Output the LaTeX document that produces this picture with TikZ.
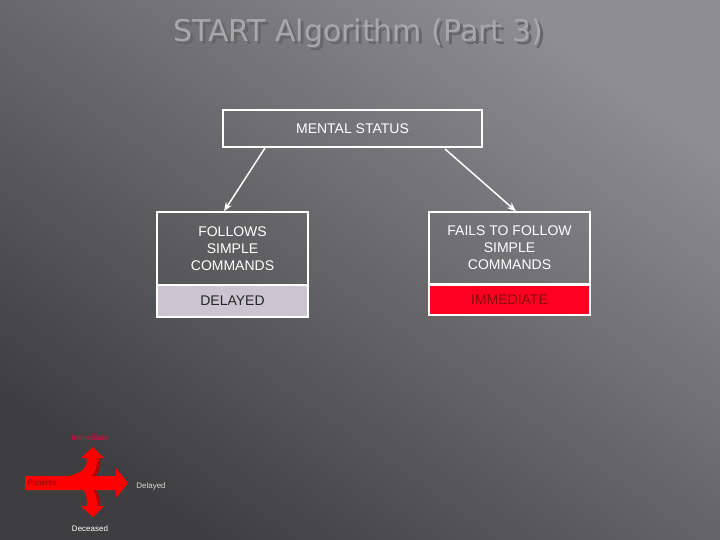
\documentclass[tikz,border=0pt]{standalone}
\usepackage{fontspec}
\setmainfont{Liberation Sans}
\newfontfamily\titlefont{DejaVu Sans}
\usetikzlibrary{arrows.meta}
\definecolor{bgdark}{HTML}{3E3E40}
\definecolor{bglight}{HTML}{8E8E92}
\definecolor{lilac}{HTML}{CCC4D0}
\definecolor{redbox}{HTML}{FF0022}
\definecolor{darkred}{HTML}{8A0A10}
\definecolor{titlegray}{HTML}{A8A8AC}
\tikzset{
  box/.style={draw=white, line width=1.5pt, text=white, align=center, font=\fontsize{14}{17}\selectfont, inner sep=0pt},
  conn/.style={white, line width=1.5pt, -{Stealth[length=9pt,width=7pt]}},
  tiny/.style={font=\fontsize{8}{9}\selectfont, inner sep=0pt},
  titlestyle/.style={font=\titlefont\fontsize{30}{34}\selectfont}
}
\begin{document}
\begin{tikzpicture}[x=1pt,y=-1pt]
\shade[top color=bglight, bottom color=bgdark, shading angle=-35] (0,0) rectangle (720,540);
\useasboundingbox (0,0) rectangle (720,540);
\node (shadow) [titlestyle, text=black!60] at (361,36) {START Algorithm (Part 3)};
\node (title) [titlestyle, text=titlegray] at (358,33) {START Algorithm (Part 3)};

\node (ms) [box, minimum width=259pt, minimum height=37pt] at (352.5,128.5) {MENTAL STATUS};
\node (fl) [box, minimum width=151pt, minimum height=73pt] at (232.5,248.5) {FOLLOWS\\SIMPLE\\COMMANDS};
\node (dl) [box, fill=lilac, text=black!85, minimum width=151pt, minimum height=32pt] at (232.5,301) {DELAYED};
\node (ff) [box, minimum width=161pt, minimum height=72pt] at (509.5,248) {FAILS TO FOLLOW\\SIMPLE\\COMMANDS};
\node (im) [box, fill=redbox, text=darkred, minimum width=161pt, minimum height=30pt] at (509.5,300) {IMMEDIATE};

\coordinate (a1) at (265,148);
\coordinate (a2) at (445,149);
\draw[conn] (a1) -- (fl.north -| 224,0);
\draw[conn] (a2) -- (ff.north -| 516,0);

% triage icon
\fill[red!70!black] (72,480) .. controls (88,478) and (94,470) .. (92,458) -- (100,458) .. controls (102,474) and (92,486) .. (72,488) -- cycle;
\fill[red!70!black] (72,486) .. controls (88,488) and (94,496) .. (92,508) -- (100,508) .. controls (102,492) and (92,480) .. (72,478) -- cycle;
\fill[red] (25,476) -- (116,476) -- (116,468) -- (128,483) -- (116,498) -- (116,490) -- (25,490) -- cycle;
\fill[red] (60,477) .. controls (80,476) and (88,468) .. (87,458) -- (81,458) -- (93,447) -- (104,458) -- (97,458) .. controls (98,476) and (86,486) .. (60,487) -- cycle;
\fill[red] (60,479) .. controls (80,480) and (88,490) .. (87,506) -- (81,506) -- (93,517) -- (104,506) -- (97,506) .. controls (98,488) and (86,478) .. (60,477) -- cycle;
\node (pat) [tiny, text=darkred] at (42,483) {Patients};
\node (imm) [tiny, text={rgb,255:red,200;green,20;blue,60}] at (90,438) {Immediate};
\node (del) [tiny, text=black!15] at (151,486) {Delayed};
\node (dec) [tiny, text=white] at (90,529) {Deceased};
\end{tikzpicture}
\end{document}
